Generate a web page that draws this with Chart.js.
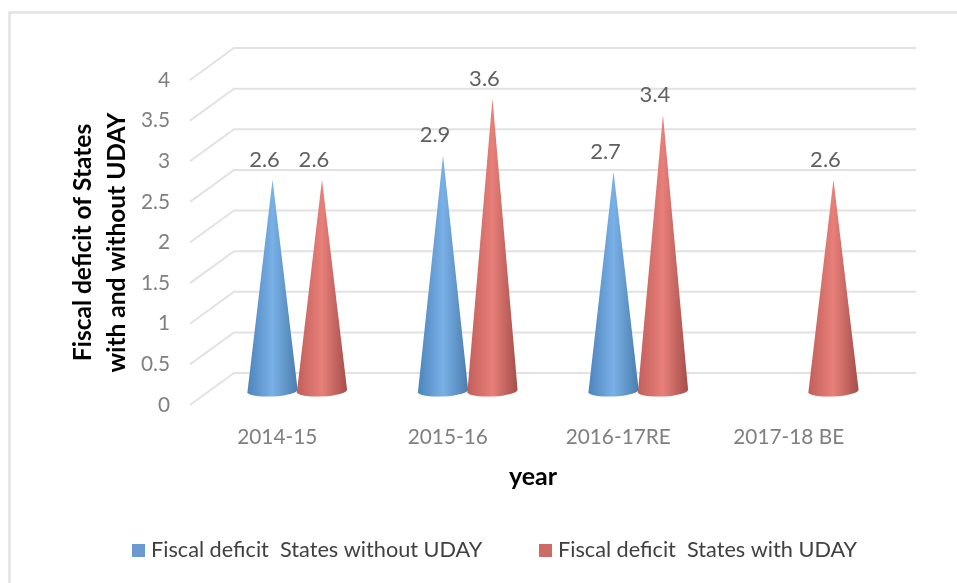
<!DOCTYPE html>
<html>
<head>
<meta charset="utf-8">
<style>html,body{margin:0;padding:0;background:#fff}canvas{display:block}</style>
<script src="https://cdn.jsdelivr.net/npm/chart.js@4/dist/chart.umd.js"></script>
</head>
<body>
<canvas id="c" width="957" height="583"></canvas>
<script>
const categories = ['2014-15', '2015-16', '2016-17RE', '2017-18 BE'];
const withoutUday = [2.6, 2.9, 2.7, null];
const withUday = [2.6, 3.6, 3.4, 2.6];
const seriesNames = ['Fiscal deficit  States without UDAY', 'Fiscal deficit  States with UDAY'];
const yTitleLines = ['Fiscal deficit of States', 'with and without UDAY'];
const xTitle = 'year';

const FONT = 'Lato';
// Offset of the floor's back edge from its front edge (pseudo-3D depth).
const DEPTH = {x: 44, y: -32};
// Cones stand partway into the floor.
const CONE_SHIFT = {x: 20, y: -14};

const shades = {
  blue: {edgeL: '#4c84bd', mid: '#79b0e6', edgeR: '#4a7dad', flat: '#6a9bd0'},
  red: {edgeL: '#c25f5b', mid: '#e87f79', edgeR: '#a44e4a', flat: '#cf6b66'}
};

// Bar element painted as a cone with a tilted elliptical base.
class ConeElement extends Chart.BarElement {
  static id = 'cone';
  draw(ctx) {
    const {x, y, base, width} = this.getProps(['x', 'y', 'base', 'width']);
    if (!Number.isFinite(y)) return;
    const cx = x + CONE_SHIFT.x, tipY = y + CONE_SHIFT.y, baseY = base + CONE_SHIFT.y;
    const rx = width / 2 + 0.4, ry = 5.5, tilt = -0.045;
    const s = this.options.backgroundColor === shades.blue.flat ? shades.blue : shades.red;
    const g = ctx.createLinearGradient(cx - rx, 0, cx + rx, 0);
    g.addColorStop(0, s.edgeL);
    g.addColorStop(0.5, s.mid);
    g.addColorStop(1, s.edgeR);
    ctx.save();
    ctx.fillStyle = g;
    ctx.beginPath();
    ctx.moveTo(cx, tipY);
    ctx.lineTo(cx + rx * Math.cos(tilt), baseY + rx * Math.sin(tilt));
    ctx.ellipse(cx, baseY, rx, ry, tilt, 0, Math.PI);
    ctx.closePath();
    ctx.fill();
    ctx.restore();
  }
}
class ConeController extends Chart.BarController {
  static id = 'cone';
  static defaults = {...Chart.BarController.defaults, dataElementType: 'cone'};
  static overrides = Chart.BarController.overrides;
}
Chart.register(ConeElement, ConeController);

// Outer frame of the figure; runs off the right and bottom of the canvas.
const framePlugin = {
  id: 'frame',
  beforeDraw(chart) {
    const {ctx} = chart;
    ctx.save();
    ctx.strokeStyle = '#e3e3e3';
    ctx.lineWidth = 2.5;
    ctx.strokeRect(9.5, 12.5, 960, 600);
    ctx.restore();
  }
};

// Side-wall diagonals and back-wall lines, one per y tick.
const wallPlugin = {
  id: 'walls',
  beforeDatasetsDraw(chart) {
    const {ctx, chartArea, scales} = chart;
    const x0 = chartArea.left - 2, x1 = x0 + DEPTH.x, x2 = chartArea.right + DEPTH.x - 2;
    ctx.save();
    ctx.strokeStyle = '#e2e2e2';
    ctx.lineWidth = 2;
    scales.y.ticks.forEach(t => {
      const py = scales.y.getPixelForValue(t.value);
      ctx.beginPath();
      ctx.moveTo(x0, py);
      ctx.lineTo(x1, py + DEPTH.y);
      ctx.lineTo(x2, py + DEPTH.y);
      ctx.stroke();
    });
    ctx.restore();
  }
};

// Value captions up and to the left of each cone tip.
const valuePlugin = {
  id: 'values',
  afterDatasetsDraw(chart) {
    const {ctx} = chart;
    ctx.save();
    ctx.font = '22px ' + FONT;
    ctx.fillStyle = '#606060';
    ctx.textAlign = 'center';
    ctx.textBaseline = 'middle';
    chart.data.datasets.forEach((ds, d) => {
      chart.getDatasetMeta(d).data.forEach((el, i) => {
        if (ds.data[i] === null) return;
        ctx.fillText(ds.data[i].toFixed(1), el.x + CONE_SHIFT.x - 8, el.y + CONE_SHIFT.y - 20);
      });
    });
    ctx.restore();
  }
};

// Legend row with a small swatch tight against each label.
const legendPlugin = {
  id: 'legendRow',
  afterDraw(chart) {
    const {ctx} = chart;
    const starts = [132, 539];
    ctx.save();
    ctx.font = '21.7px ' + FONT;
    ctx.textBaseline = 'middle';
    chart.data.datasets.forEach((ds, d) => {
      ctx.fillStyle = ds.backgroundColor;
      ctx.fillRect(starts[d], 544, 13, 13);
      ctx.fillStyle = '#404040';
      ctx.fillText(ds.label, starts[d] + 19, 550);
    });
    ctx.restore();
  }
};

new Chart(document.getElementById('c'), {
  type: 'cone',
  data: {
    labels: categories,
    datasets: [
      {label: seriesNames[0], data: withoutUday, backgroundColor: shades.blue.flat},
      {label: seriesNames[1], data: withUday, backgroundColor: shades.red.flat}
    ]
  },
  plugins: [framePlugin, wallPlugin, valuePlugin, legendPlugin],
  options: {
    responsive: false,
    animation: false,
    layout: {padding: {left: 0, right: 83, top: 80, bottom: 93}},
    datasets: {cone: {categoryPercentage: 0.58, barPercentage: 1}},
    plugins: {legend: {display: false}, tooltip: {enabled: false}},
    scales: {
      x: {
        type: 'category',
        afterFit(s) { s.height = 85; },
        grid: {display: false, drawTicks: false},
        border: {display: false},
        ticks: {color: '#7f7f7f', font: {family: FONT, size: 20.8}, padding: 20, maxRotation: 0, autoSkip: false},
        title: {display: true, text: xTitle, color: '#000', font: {family: FONT, size: 25, weight: 'bold', lineHeight: 1.2}, padding: {top: 0, bottom: -2}}
      },
      y: {
        min: 0,
        max: 4,
        afterFit(s) { s.width = 192; },
        grid: {display: false, drawTicks: false},
        border: {display: false},
        ticks: {stepSize: 0.5, color: '#7f7f7f', font: {family: FONT, size: 20.8}, padding: 22, callback: v => String(v)},
        title: {display: true, text: yTitleLines, color: '#000', font: {family: FONT, size: 24.5, weight: 'bold', lineHeight: 34 / 24.5}, padding: {top: 66, bottom: 0}}
      }
    }
  }
});
</script>
</body>
</html>
